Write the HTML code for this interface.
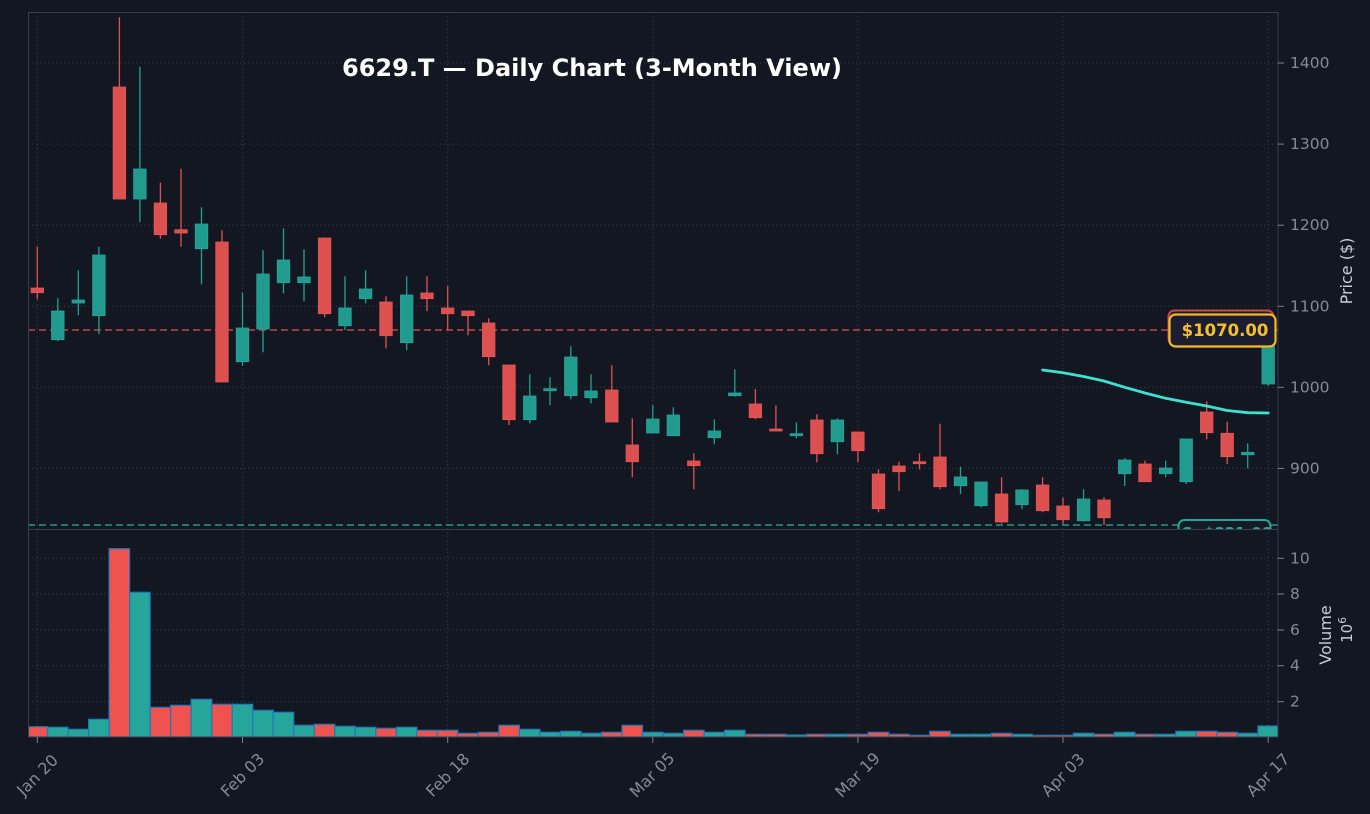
<!DOCTYPE html>
<html>
<head>
<meta charset="utf-8">
<style>
html,body{margin:0;padding:0;background:#131722;}
svg{display:block;}
text{font-family:"DejaVu Sans","Liberation Sans",sans-serif;}
</style>
</head>
<body>
<svg width="1370" height="814" viewBox="0 0 1370 814" xmlns="http://www.w3.org/2000/svg">
<defs>
<clipPath id="cp"><rect x="28" y="12" width="1250" height="517.5"/></clipPath>
<clipPath id="cv"><rect x="28" y="529.5" width="1250" height="208"/></clipPath>
</defs>
<rect x="0" y="0" width="1370" height="814" fill="#131722"/>

<!-- grids -->
<g stroke="#363a46" stroke-width="1" stroke-dasharray="1.2 2.8" fill="none">
<line x1="28" y1="63" x2="1278" y2="63"/>
<line x1="28" y1="144.1" x2="1278" y2="144.1"/>
<line x1="28" y1="225.2" x2="1278" y2="225.2"/>
<line x1="28" y1="306.3" x2="1278" y2="306.3"/>
<line x1="28" y1="387.3" x2="1278" y2="387.3"/>
<line x1="28" y1="468.4" x2="1278" y2="468.4"/>
<line x1="28" y1="558.3" x2="1278" y2="558.3"/>
<line x1="28" y1="594" x2="1278" y2="594"/>
<line x1="28" y1="630" x2="1278" y2="630"/>
<line x1="28" y1="665.7" x2="1278" y2="665.7"/>
<line x1="28" y1="701.7" x2="1278" y2="701.7"/>
<line x1="37.3" y1="12" x2="37.3" y2="737"/>
<line x1="242.5" y1="12" x2="242.5" y2="737"/>
<line x1="447.7" y1="12" x2="447.7" y2="737"/>
<line x1="652.8" y1="12" x2="652.8" y2="737"/>
<line x1="857.9" y1="12" x2="857.9" y2="737"/>
<line x1="1063" y1="12" x2="1063" y2="737"/>
<line x1="1268.2" y1="12" x2="1268.2" y2="737"/>
</g>

<!-- price panel -->
<g clip-path="url(#cp)">
<line x1="28" y1="330" x2="1278" y2="330" stroke="#d9534f" stroke-opacity="0.85" stroke-width="1.6" stroke-dasharray="7 4"/>
<line x1="28" y1="525" x2="1278" y2="525" stroke="#26a69a" stroke-opacity="0.9" stroke-width="1.6" stroke-dasharray="7 4"/>

<g stroke="#e05252" stroke-width="1.3" fill="none">
<line x1="37.3" y1="246.7" x2="37.3" y2="299.3"/>
<line x1="119.4" y1="17.3" x2="119.4" y2="199"/>
<line x1="160.4" y1="182.7" x2="160.4" y2="238.7"/>
<line x1="181" y1="168.7" x2="181" y2="246.7"/>
<line x1="222" y1="230.3" x2="222" y2="382"/>
<line x1="324.6" y1="237.3" x2="324.6" y2="317.3"/>
<line x1="386" y1="296.3" x2="386" y2="348.3"/>
<line x1="427" y1="276.3" x2="427" y2="311.3"/>
<line x1="447.7" y1="286" x2="447.7" y2="330"/>
<line x1="468" y1="310.7" x2="468" y2="335.3"/>
<line x1="488.7" y1="318.3" x2="488.7" y2="365.3"/>
<line x1="509" y1="365" x2="509" y2="425"/>
<line x1="611.8" y1="365.3" x2="611.8" y2="422"/>
<line x1="632.3" y1="418.3" x2="632.3" y2="477.3"/>
<line x1="693.8" y1="453.3" x2="693.8" y2="489.3"/>
<line x1="755.4" y1="389" x2="755.4" y2="419.3"/>
<line x1="775.9" y1="405.3" x2="775.9" y2="430.7"/>
<line x1="816.9" y1="414.3" x2="816.9" y2="462.3"/>
<line x1="857.9" y1="431.7" x2="857.9" y2="462.3"/>
<line x1="878.5" y1="469.3" x2="878.5" y2="512.3"/>
<line x1="899" y1="461.7" x2="899" y2="491"/>
<line x1="919.5" y1="453.3" x2="919.5" y2="469.3"/>
<line x1="940" y1="423.7" x2="940" y2="489.3"/>
<line x1="1001.6" y1="477.3" x2="1001.6" y2="523.3"/>
<line x1="1042.6" y1="477.3" x2="1042.6" y2="512.3"/>
<line x1="1063" y1="497.7" x2="1063" y2="524"/>
<line x1="1104" y1="497.3" x2="1104" y2="525"/>
<line x1="1145" y1="460.7" x2="1145" y2="481.7"/>
<line x1="1206.7" y1="401.3" x2="1206.7" y2="439.3"/>
<line x1="1227.2" y1="421.7" x2="1227.2" y2="464"/>
</g>
<g stroke="#24a090" stroke-width="1.3" fill="none">
<line x1="57.8" y1="298.3" x2="57.8" y2="341.3"/>
<line x1="78.3" y1="270.3" x2="78.3" y2="315.3"/>
<line x1="98.9" y1="246.7" x2="98.9" y2="334.3"/>
<line x1="139.9" y1="66.7" x2="139.9" y2="222.3"/>
<line x1="201.5" y1="207.3" x2="201.5" y2="284.3"/>
<line x1="242.5" y1="292.7" x2="242.5" y2="365.7"/>
<line x1="263" y1="250.3" x2="263" y2="352.3"/>
<line x1="283.5" y1="228.3" x2="283.5" y2="293.3"/>
<line x1="304" y1="249.3" x2="304" y2="301.3"/>
<line x1="345" y1="276.3" x2="345" y2="330"/>
<line x1="365.6" y1="270.3" x2="365.6" y2="303.3"/>
<line x1="406.7" y1="276.3" x2="406.7" y2="350.3"/>
<line x1="529.8" y1="374.3" x2="529.8" y2="423.3"/>
<line x1="550" y1="377.3" x2="550" y2="405.3"/>
<line x1="570.8" y1="346.3" x2="570.8" y2="399.3"/>
<line x1="591" y1="374.3" x2="591" y2="403.3"/>
<line x1="652.8" y1="405.3" x2="652.8" y2="433.3"/>
<line x1="673.3" y1="407.3" x2="673.3" y2="435.7"/>
<line x1="714.3" y1="419.3" x2="714.3" y2="444.3"/>
<line x1="734.8" y1="369.3" x2="734.8" y2="396.7"/>
<line x1="796.4" y1="422.3" x2="796.4" y2="438.3"/>
<line x1="837.4" y1="418.3" x2="837.4" y2="454.3"/>
<line x1="960.5" y1="466.7" x2="960.5" y2="494"/>
<line x1="981" y1="482" x2="981" y2="507.3"/>
<line x1="1022" y1="489" x2="1022" y2="509.3"/>
<line x1="1083.6" y1="489.3" x2="1083.6" y2="521.7"/>
<line x1="1124.7" y1="458.3" x2="1124.7" y2="486"/>
<line x1="1165.7" y1="460.7" x2="1165.7" y2="477.3"/>
<line x1="1186.2" y1="439" x2="1186.2" y2="484"/>
<line x1="1247.7" y1="443.3" x2="1247.7" y2="468.3"/>
<line x1="1268.2" y1="320" x2="1268.2" y2="386"/>
</g>

<g fill="#dd5050" stroke="#e55555" stroke-width="0.8">
<rect x="31.05" y="288" width="12.5" height="4.7"/>
<rect x="113.15" y="87" width="12.5" height="112"/>
<rect x="154.15" y="203" width="12.5" height="31.7"/>
<rect x="174.75" y="229.7" width="12.5" height="3.3"/>
<rect x="215.75" y="242" width="12.5" height="140"/>
<rect x="318.35" y="238" width="12.5" height="75.7"/>
<rect x="379.75" y="302" width="12.5" height="33.7"/>
<rect x="420.75" y="293" width="12.5" height="5.7"/>
<rect x="441.45" y="308" width="12.5" height="5.7"/>
<rect x="461.75" y="311" width="12.5" height="4.7"/>
<rect x="482.45" y="323" width="12.5" height="33.7"/>
<rect x="502.75" y="365" width="12.5" height="54.7"/>
<rect x="605.55" y="390" width="12.5" height="32"/>
<rect x="626.05" y="445" width="12.5" height="16.7"/>
<rect x="687.55" y="461" width="12.5" height="4.7"/>
<rect x="749.15" y="404" width="12.5" height="13.7"/>
<rect x="769.65" y="429" width="12.5" height="2"/>
<rect x="810.65" y="420" width="12.5" height="33.7"/>
<rect x="851.65" y="432" width="12.5" height="18.7"/>
<rect x="872.25" y="474" width="12.5" height="34.7"/>
<rect x="892.75" y="466" width="12.5" height="5.7"/>
<rect x="913.25" y="461.7" width="12.5" height="2"/>
<rect x="933.75" y="457" width="12.5" height="29.7"/>
<rect x="995.35" y="494" width="12.5" height="28"/>
<rect x="1036.35" y="485" width="12.5" height="25.7"/>
<rect x="1056.75" y="506" width="12.5" height="13.7"/>
<rect x="1097.75" y="500" width="12.5" height="17.7"/>
<rect x="1138.75" y="464" width="12.5" height="17.7"/>
<rect x="1200.45" y="412" width="12.5" height="20.7"/>
<rect x="1220.95" y="433.3" width="12.5" height="23.4"/>
</g>
<g fill="#229b8f" stroke="#26a69a" stroke-width="0.8">
<rect x="51.55" y="311" width="12.5" height="28.7"/>
<rect x="72.05" y="300" width="12.5" height="3"/>
<rect x="92.65" y="255" width="12.5" height="60.7"/>
<rect x="133.65" y="169" width="12.5" height="30"/>
<rect x="195.25" y="224" width="12.5" height="24.7"/>
<rect x="236.25" y="328" width="12.5" height="33.7"/>
<rect x="256.75" y="274" width="12.5" height="55"/>
<rect x="277.25" y="260" width="12.5" height="22.7"/>
<rect x="297.75" y="277" width="12.5" height="5.7"/>
<rect x="338.75" y="308" width="12.5" height="17.7"/>
<rect x="359.35" y="289" width="12.5" height="9.7"/>
<rect x="400.45" y="295" width="12.5" height="47.7"/>
<rect x="523.55" y="396" width="12.5" height="23.7"/>
<rect x="543.75" y="388.7" width="12.5" height="2"/>
<rect x="564.55" y="357" width="12.5" height="38.7"/>
<rect x="584.75" y="391" width="12.5" height="6.7"/>
<rect x="646.55" y="419" width="12.5" height="14"/>
<rect x="667.05" y="415" width="12.5" height="20.7"/>
<rect x="708.05" y="431" width="12.5" height="6.7"/>
<rect x="728.55" y="393" width="12.5" height="2.7"/>
<rect x="790.15" y="433.7" width="12.5" height="2"/>
<rect x="831.15" y="420" width="12.5" height="21.7"/>
<rect x="954.25" y="477" width="12.5" height="8.7"/>
<rect x="974.75" y="482" width="12.5" height="23.7"/>
<rect x="1015.75" y="490" width="12.5" height="14.7"/>
<rect x="1077.35" y="499" width="12.5" height="21.7"/>
<rect x="1118.45" y="460" width="12.5" height="13.7"/>
<rect x="1159.45" y="468" width="12.5" height="5.7"/>
<rect x="1179.95" y="439" width="12.5" height="42.7"/>
<rect x="1241.45" y="452.3" width="12.5" height="2.4"/>
<rect x="1261.95" y="330" width="12.5" height="54"/>
</g>

<!-- moving average -->
<polyline points="1042.6,370 1063,372.8 1083.6,376.5 1104,381 1124.7,387.3 1145,393 1165.7,398.3 1186.2,402.3 1206.7,406 1227.2,410.5 1247.7,412.7 1268.2,413" fill="none" stroke="#3fe0d0" stroke-width="2.8" stroke-linejoin="round" stroke-linecap="round"/>

<!-- labels -->
<rect x="1168.5" y="310.5" width="105" height="34" rx="6" fill="#1a1c2c" stroke="#c94a4a" stroke-width="2"/>
<rect x="1169.5" y="314.5" width="106" height="32" rx="6" fill="#1c1d30" stroke="#f2bb22" stroke-width="2.2"/>
<text x="1225" y="330.5" text-anchor="middle" dominant-baseline="central" font-size="16.5" font-weight="bold" fill="#f5c02a">$1070.00</text>
<rect x="1178.5" y="520" width="92" height="30" rx="6" fill="#161b26" stroke="#26a69a" stroke-width="2"/>
<text x="1227" y="538" text-anchor="middle" font-size="15" font-weight="bold" fill="#26a69a">S: $831.00</text>
</g>

<!-- volume panel -->
<g clip-path="url(#cv)" stroke="#2376b8" stroke-width="1.2">
<g fill="#ef5350">
<rect x="27.04" y="726.7" width="20.52" height="10.3"/>
<rect x="109.10" y="548.7" width="20.52" height="188.3"/>
<rect x="150.13" y="707.3" width="20.52" height="29.7"/>
<rect x="170.65" y="705.3" width="20.52" height="31.7"/>
<rect x="211.68" y="704.3" width="20.52" height="32.7"/>
<rect x="314.25" y="724.3" width="20.52" height="12.7"/>
<rect x="375.80" y="728.3" width="20.52" height="8.7"/>
<rect x="416.83" y="730.3" width="20.52" height="6.7"/>
<rect x="437.34" y="730.3" width="20.52" height="6.7"/>
<rect x="457.86" y="733.3" width="20.52" height="3.7"/>
<rect x="478.37" y="732.3" width="20.52" height="4.7"/>
<rect x="498.89" y="725.3" width="20.52" height="11.7"/>
<rect x="601.46" y="732.3" width="20.52" height="4.7"/>
<rect x="621.98" y="725.3" width="20.52" height="11.7"/>
<rect x="683.52" y="730.3" width="20.52" height="6.7"/>
<rect x="745.07" y="734.3" width="20.52" height="2.7"/>
<rect x="765.58" y="734.3" width="20.52" height="2.7"/>
<rect x="806.61" y="734.3" width="20.52" height="2.7"/>
<rect x="847.64" y="734.3" width="20.52" height="2.7"/>
<rect x="868.16" y="732.3" width="20.52" height="4.7"/>
<rect x="888.67" y="734.3" width="20.52" height="2.7"/>
<rect x="909.19" y="735.3" width="20.52" height="1.7"/>
<rect x="929.70" y="731.3" width="20.52" height="5.7"/>
<rect x="991.25" y="733.3" width="20.52" height="3.7"/>
<rect x="1032.28" y="735.3" width="20.52" height="1.7"/>
<rect x="1052.79" y="735.3" width="20.52" height="1.7"/>
<rect x="1093.82" y="734.3" width="20.52" height="2.7"/>
<rect x="1134.85" y="734.3" width="20.52" height="2.7"/>
<rect x="1196.40" y="731.3" width="20.52" height="5.7"/>
<rect x="1216.91" y="732.3" width="20.52" height="4.7"/>
</g>
<g fill="#26a69a">
<rect x="47.56" y="727.3" width="20.52" height="9.7"/>
<rect x="68.07" y="729.3" width="20.52" height="7.7"/>
<rect x="88.59" y="719.3" width="20.52" height="17.7"/>
<rect x="129.62" y="592.3" width="20.52" height="144.7"/>
<rect x="191.16" y="699.3" width="20.52" height="37.7"/>
<rect x="232.19" y="704.3" width="20.52" height="32.7"/>
<rect x="252.71" y="710.3" width="20.52" height="26.7"/>
<rect x="273.22" y="712.3" width="20.52" height="24.7"/>
<rect x="293.74" y="725.3" width="20.52" height="11.7"/>
<rect x="334.77" y="726.3" width="20.52" height="10.7"/>
<rect x="355.28" y="727.3" width="20.52" height="9.7"/>
<rect x="396.31" y="727.3" width="20.52" height="9.7"/>
<rect x="519.40" y="729.3" width="20.52" height="7.7"/>
<rect x="539.92" y="732.3" width="20.52" height="4.7"/>
<rect x="560.43" y="731.3" width="20.52" height="5.7"/>
<rect x="580.95" y="733.3" width="20.52" height="3.7"/>
<rect x="642.49" y="732.3" width="20.52" height="4.7"/>
<rect x="663.01" y="733.3" width="20.52" height="3.7"/>
<rect x="704.04" y="732.3" width="20.52" height="4.7"/>
<rect x="724.55" y="730.3" width="20.52" height="6.7"/>
<rect x="786.10" y="735" width="20.52" height="2"/>
<rect x="827.13" y="734.3" width="20.52" height="2.7"/>
<rect x="950.22" y="734.3" width="20.52" height="2.7"/>
<rect x="970.73" y="734.3" width="20.52" height="2.7"/>
<rect x="1011.76" y="734.3" width="20.52" height="2.7"/>
<rect x="1073.31" y="733.3" width="20.52" height="3.7"/>
<rect x="1114.34" y="732.3" width="20.52" height="4.7"/>
<rect x="1155.37" y="734.3" width="20.52" height="2.7"/>
<rect x="1175.88" y="731.3" width="20.52" height="5.7"/>
<rect x="1237.43" y="733.3" width="20.52" height="3.7"/>
<rect x="1257.94" y="726" width="20.52" height="11"/>
</g>
</g>

<!-- spines -->
<g stroke="#3a3e4a" stroke-width="1" fill="none">
<rect x="28.5" y="12.5" width="1249.5" height="517"/>
<rect x="28.5" y="529.5" width="1249.5" height="207.5"/>
</g>

<!-- ticks -->
<g stroke="#7c808b" stroke-width="1">
<line x1="1278" y1="63" x2="1284" y2="63"/>
<line x1="1278" y1="144.1" x2="1284" y2="144.1"/>
<line x1="1278" y1="225.2" x2="1284" y2="225.2"/>
<line x1="1278" y1="306.3" x2="1284" y2="306.3"/>
<line x1="1278" y1="387.3" x2="1284" y2="387.3"/>
<line x1="1278" y1="468.4" x2="1284" y2="468.4"/>
<line x1="1278" y1="558.3" x2="1284" y2="558.3"/>
<line x1="1278" y1="594" x2="1284" y2="594"/>
<line x1="1278" y1="630" x2="1284" y2="630"/>
<line x1="1278" y1="665.7" x2="1284" y2="665.7"/>
<line x1="1278" y1="701.7" x2="1284" y2="701.7"/>
<line x1="37.3" y1="737" x2="37.3" y2="743"/>
<line x1="242.5" y1="737" x2="242.5" y2="743"/>
<line x1="447.7" y1="737" x2="447.7" y2="743"/>
<line x1="652.8" y1="737" x2="652.8" y2="743"/>
<line x1="857.9" y1="737" x2="857.9" y2="743"/>
<line x1="1063" y1="737" x2="1063" y2="743"/>
<line x1="1268.2" y1="737" x2="1268.2" y2="743"/>
</g>

<g font-size="15.5" fill="#868a95" dominant-baseline="central">
<text x="1290" y="63">1400</text>
<text x="1290" y="144.1">1300</text>
<text x="1290" y="225.2">1200</text>
<text x="1290" y="306.3">1100</text>
<text x="1290" y="387.3">1000</text>
<text x="1290" y="468.4">900</text>
<text x="1290" y="558.3">10</text>
<text x="1290" y="594">8</text>
<text x="1290" y="630">6</text>
<text x="1290" y="665.7">4</text>
<text x="1290" y="701.7">2</text>
</g>

<g font-size="16" fill="#868a95" text-anchor="middle" dominant-baseline="central">
<text transform="translate(37.5,775) rotate(-45)">Jan 20</text>
<text transform="translate(242.5,775) rotate(-45)">Feb 03</text>
<text transform="translate(447.7,775) rotate(-45)">Feb 18</text>
<text transform="translate(652,775) rotate(-45)">Mar 05</text>
<text transform="translate(857.5,775) rotate(-45)">Mar 19</text>
<text transform="translate(1063,775) rotate(-45)">Apr 03</text>
<text transform="translate(1268,775) rotate(-45)">Apr 17</text>
</g>

<g font-size="16" fill="#c9ccd3" text-anchor="middle">
<text transform="translate(1352,271) rotate(-90)">Price ($)</text>
<text transform="translate(1331,635) rotate(-90)">Volume</text>
<text transform="translate(1352,630) rotate(-90)" font-size="15">10<tspan font-size="10.5" dy="-6">6</tspan></text>
</g>

<text x="592" y="76" text-anchor="middle" font-size="24" font-weight="bold" fill="#ffffff">6629.T — Daily Chart (3-Month View)</text>
</svg>
</body>
</html>
